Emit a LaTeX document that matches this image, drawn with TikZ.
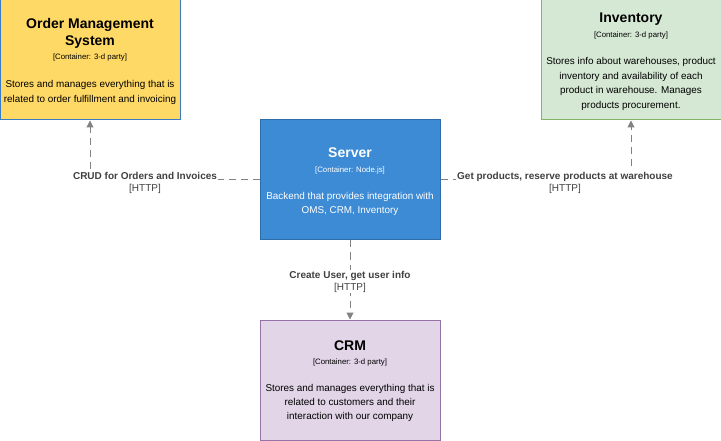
\documentclass[tikz,border=0pt]{standalone}
\usepackage{fontspec}
\setmainfont{Liberation Sans}
\usetikzlibrary{arrows.meta}
\definecolor{omsfill}{HTML}{FFD966}
\definecolor{omsdraw}{HTML}{3A7CC4}
\definecolor{invfill}{HTML}{D5E8D4}
\definecolor{invdraw}{HTML}{82B366}
\definecolor{srvfill}{HTML}{3D8BD5}
\definecolor{srvdraw}{HTML}{2E6DA8}
\definecolor{crmfill}{HTML}{E1D5E7}
\definecolor{crmdraw}{HTML}{9673A6}
\definecolor{conncol}{HTML}{828282}
\definecolor{lblcol}{HTML}{404040}
\tikzset{
  boxnode/.style={rectangle, minimum width=180pt, minimum height=120pt, inner sep=0pt, line width=1pt},
  titletxt/.style={font=\bfseries\fontsize{14}{17}\selectfont, inner sep=0pt, align=center},
  conttxt/.style={font=\fontsize{7.8}{9}\selectfont, inner sep=0pt},
  desctxt/.style={font=\fontsize{9.9}{14.4}\selectfont, inner sep=0pt, align=center},
  conn/.style={draw=conncol, line width=1pt, dash pattern=on 7pt off 5pt, -{Triangle[width=7pt,length=7pt]}},
  lbl/.style={fill=white, inner sep=1pt, align=center, text=lblcol, font=\fontsize{10}{12}\selectfont},
}
\begin{document}
\begin{tikzpicture}[x=1pt,y=-1pt]
\useasboundingbox[fill=white] (0,0) rectangle (721,441);
% boxes
\node[boxnode, fill=omsfill, draw=omsdraw] (oms) at (90,60) {};
\node[boxnode, fill=invfill, draw=invdraw] (inv) at (631,60) {};
\node[boxnode, fill=srvfill, draw=srvdraw] (srv) at (350,180) {};
\node[boxnode, fill=crmfill, draw=crmdraw] (crm) at (350,380) {};
% OMS text
\node[titletxt] (omst) at (90,33) {Order Management\\System};
\node[conttxt] (omsc) at (90,57) {[Container: 3-d party]};
\node[desctxt] (omsd) at (90,92.5) {Stores and manages everything that is\\related to order fulfillment and invoicing};
% Inventory text
\node[titletxt] (invt) at (631,19) {Inventory};
\node[conttxt] (invc) at (631,35) {[Container: 3-d party]};
\node[desctxt] (invd) at (631,84) {Stores info about warehouses, product\\inventory and availability of each\\product in warehouse. Manages\\products procurement.};
% Server text
\node[titletxt, text=white] (srvt) at (350,153) {Server};
\node[conttxt, text=white] (srvc) at (350,170) {[Container: Node.js]};
\node[desctxt, text=white] (srvd) at (350,204) {Backend that provides integration with\\OMS, CRM, Inventory};
% CRM text
\node[titletxt] (crmt) at (350,346) {CRM};
\node[conttxt] (crmc) at (350,362) {[Container: 3-d party]};
\node[desctxt] (crmd) at (350,403) {Stores and manages everything that is\\related to customers and their\\interaction with our company};
% connectors
\draw[conn] (srv.west) -| (oms.south);
\draw[conn] (srv.east) -| (inv.south);
\draw[conn] (srv.south) -- (crm.north);
% labels
\node[lbl] (l1) at (145,182.5) {\textbf{CRUD for Orders and Invoices}\\{}[HTTP]};
\node[lbl] (l2) at (565,182.5) {\textbf{Get products, reserve products at warehouse}\\{}[HTTP]};
\node[lbl] (l3) at (350,281.5) {\textbf{Create User, get user info}\\{}[HTTP]};
\end{tikzpicture}
\end{document}
